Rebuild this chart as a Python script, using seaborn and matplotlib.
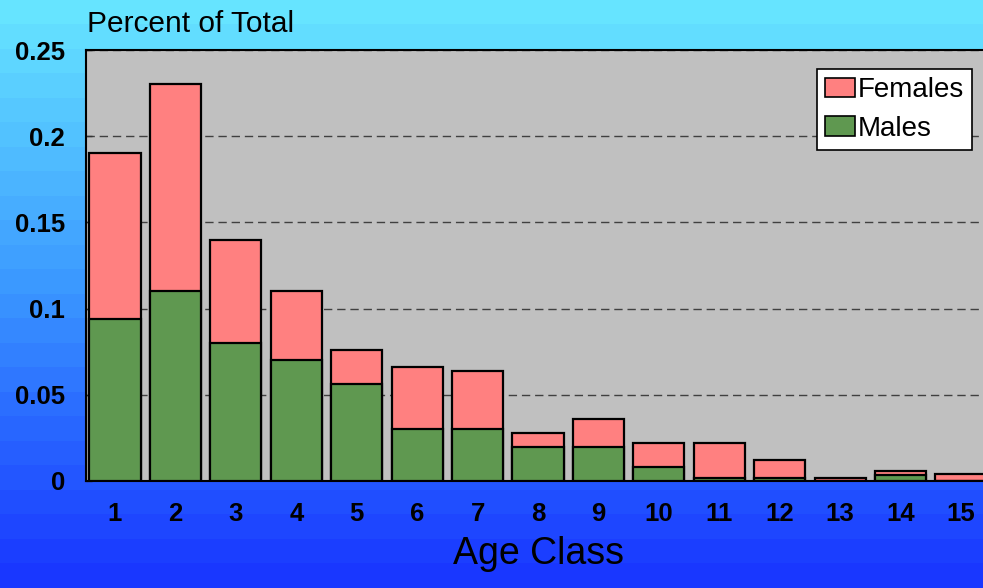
import numpy as np
import pandas as pd
import matplotlib
matplotlib.use("Agg")
import matplotlib.pyplot as plt
from matplotlib.patches import Patch
import seaborn as sns

age_classes = [str(i) for i in range(1, 16)]
males = [0.094, 0.11, 0.08, 0.07, 0.056, 0.03, 0.03, 0.02, 0.02, 0.008, 0.002, 0.002, 0.0, 0.0035, 0.0]
females = [0.096, 0.12, 0.06, 0.04, 0.020, 0.036, 0.034, 0.008, 0.016, 0.014, 0.020, 0.010, 0.002, 0.0025, 0.004]
y_ticks = [0, 0.05, 0.1, 0.15, 0.2, 0.25]
y_tick_labels = ["0", "0.05", "0.1", "0.15", "0.2", "0.25"]

df = pd.DataFrame({"age": age_classes, "males": males, "females": females})
df["total"] = df["males"] + df["females"]

sns.set_theme(style="white")
plt.rcParams["font.family"] = ["Liberation Sans", "DejaVu Sans"]
plt.rcParams["text.color"] = "black"
plt.rcParams["axes.labelcolor"] = "black"
plt.rcParams["xtick.color"] = "black"
plt.rcParams["ytick.color"] = "black"

W, H = 983, 588
fig = plt.figure(figsize=(W / 100, H / 100), dpi=100)

# banded gradient background
bg = fig.add_axes([0, 0, 1, 1], zorder=-10)
stops_y = np.array([0.0, 0.5, 0.75, 1.0])
top = np.array([102, 228, 255]) / 255
mid = np.array([58, 150, 255]) / 255
low = np.array([40, 100, 255]) / 255
bot = np.array([25, 55, 255]) / 255
nb = 24
cols = []
for i in range(nb):
    t = i / (nb - 1)
    c = np.array([np.interp(t, stops_y, [top[k], mid[k], low[k], bot[k]]) for k in range(3)])
    cols.append(c)
img = np.array(cols)[:, None, :]
bg.imshow(img, aspect="auto", extent=[0, 1, 0, 1], interpolation="nearest")
bg.set_axis_off()

ax = fig.add_axes([86 / W, (H - 481) / H, 1 - 86 / W + 0.009, (481 - 50) / H])
ax.set_facecolor("#C0C0C0")

sns.barplot(data=df, x="age", y="total", order=age_classes, color="#FF8080",
            saturation=1, width=0.845, edgecolor="black", linewidth=1.6, ax=ax, zorder=3)
sns.barplot(data=df, x="age", y="males", order=age_classes, color="#5F9850",
            saturation=1, width=0.845, edgecolor="black", linewidth=1.6, ax=ax, zorder=4)

ax.set_xlim(-0.48, 14.51)
ax.set_ylim(0, 0.25)
ax.set_yticks(y_ticks)
ax.set_yticklabels(y_tick_labels, fontsize=18.5, fontweight="bold", color="black")
for lab in ax.get_xticklabels():
    lab.set_fontsize(18.5)
    lab.set_fontweight("bold")
    lab.set_color("black")
ax.tick_params(axis="y", direction="in", length=4, width=1, color="#333333", pad=15, left=True)
ax.tick_params(axis="x", length=0, pad=15)
ax.yaxis.grid(True, color="#404040", linestyle=(0, (6, 3.5)), linewidth=1.0, zorder=0)
ax.set_axisbelow(True)
for s in ax.spines.values():
    s.set_color("black")
    s.set_linewidth(1.5)

ax.set_ylabel("")
ax.set_xlabel("Age Class", fontsize=27, labelpad=7, color="black")

fig.text(87 / W, 1 - 24 / H, "Percent of Total", fontsize=21.5, ha="left", va="center", color="black")

handles = [Patch(facecolor="#FF8080", edgecolor="black", linewidth=1.2, label="Females"),
           Patch(facecolor="#5F9850", edgecolor="black", linewidth=1.2, label="Males")]
leg = ax.legend(handles=handles, loc="upper right", bbox_to_anchor=(972 / W, 1 - 69 / H),
                bbox_transform=fig.transFigure, fontsize=20, frameon=True, fancybox=False,
                framealpha=1, edgecolor="black", handlelength=1.05, handleheight=0.7,
                handletextpad=0.1, borderpad=0.3, labelspacing=0.45, borderaxespad=0)
leg.get_frame().set_linewidth(1.2)
for t in leg.get_texts():
    t.set_color("black")

fig.savefig("out.png", dpi=100)
